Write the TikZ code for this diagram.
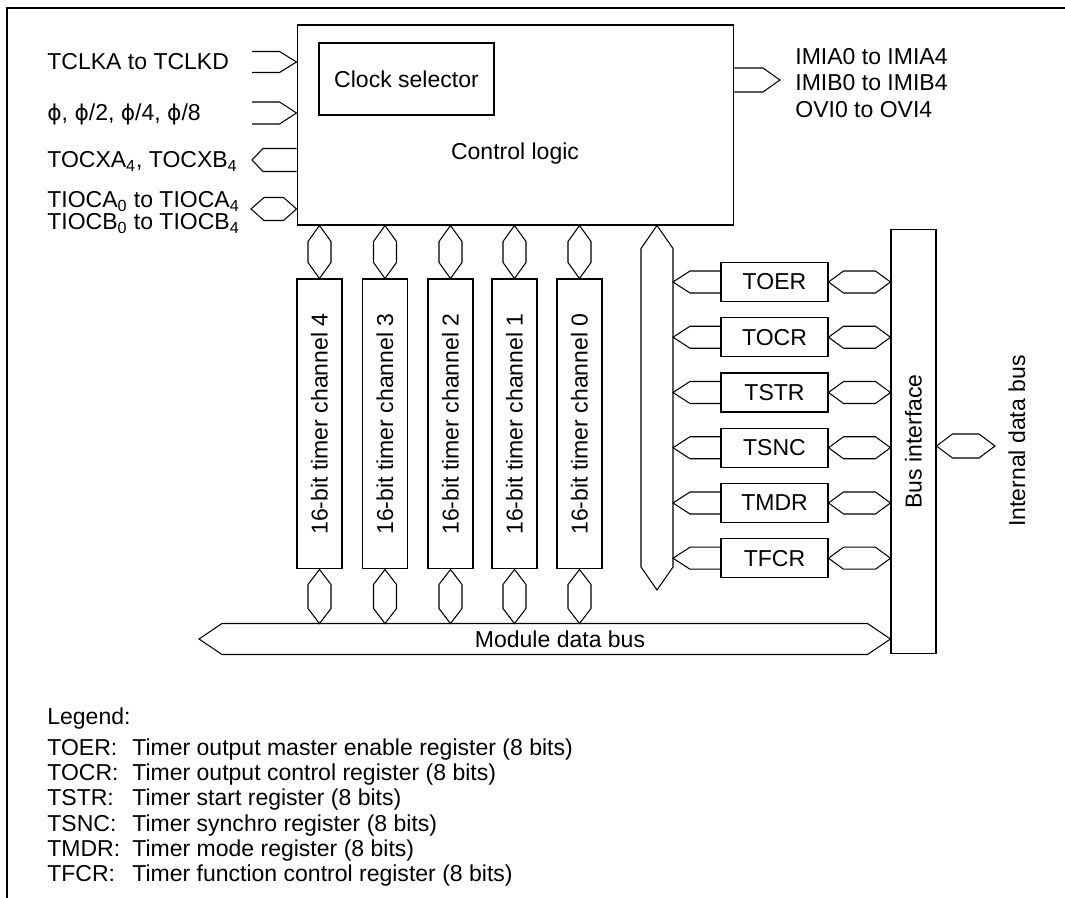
\documentclass[tikz,border=0pt]{standalone}
\usepackage{fontspec}
\setmainfont{Liberation Sans}
\newfontfamily\phifont{DejaVu Sans}
\usepackage{tikz}
\usetikzlibrary{positioning, calc}
\newcommand{\sigfont}{\fontsize{13.1pt}{15.5pt}\selectfont}
\newcommand{\phisym}{{\phifont\fontsize{12.4pt}{15pt}\selectfont ϕ}}
\tikzset{
  blockbox/.style={
    rectangle,
    draw,
    line width=0.6pt,
    inner sep=0pt,
    font=\sigfont
  },
  chanbox/.style={
    blockbox,
    minimum width=0.9cm,
    minimum height=5.8cm
  },
  regbox/.style={
    blockbox,
    minimum width=2.14cm,
    minimum height=0.78cm
  },
  sigtext/.style={
    inner sep=0pt,
    font=\sigfont
  },
  busline/.style={
    line width=0.6pt,
    line join=miter
  },
  framepen/.style={
    line width=1.4pt
  }
}
% hollow bus shapes
\newcommand{\hbus}[4]{%
  \draw[busline] (#1) -- ($(#1)+(#4,-#3)$) -- ($(#2)+(-#4,-#3)$) -- (#2)
    -- ($(#2)+(-#4,#3)$) -- ($(#1)+(#4,#3)$) -- cycle;}
\newcommand{\vbus}[4]{%
  \draw[busline] (#1) -- ($(#1)+(#3,#4)$) -- ($(#2)+(#3,-#4)$) -- (#2)
    -- ($(#2)+(-#3,-#4)$) -- ($(#1)+(-#3,#4)$) -- cycle;}
\newcommand{\busarrow}[4]{%
  \draw[busline] ($(#1)+(0,#3)$) -- ($(#2)+(#4,#3)$) -- (#2)
    -- ($(#2)+(#4,-#3)$) -- ($(#1)+(0,-#3)$);}

\begin{document}
\begin{tikzpicture}[x=0.02cm, y=-0.02cm]
  \useasboundingbox (0,0) rectangle (1065,898);
  \draw[framepen] (1065,8) -- (7,8) -- (7,898);

  \node[blockbox, minimum width=8.74cm, minimum height=4cm] (ctrl) at (515.5,125) {};
  \node[blockbox, minimum width=3.5cm, minimum height=1.44cm] (clksel) at (406.5,79) {Clock selector};
  \node[sigtext] (ctrltext) at (515,154) {Control logic};

  \node[chanbox] (ch4) at (319.5,424) {};
  \node[chanbox] (ch3) at (385,424) {};
  \node[chanbox] (ch2) at (450.5,424) {};
  \node[chanbox] (ch1) at (514.5,424) {};
  \node[chanbox] (ch0) at (579.5,424) {};
  \node[sigtext, rotate=90] (ch4text) at (ch4) {16-bit timer channel 4};
  \node[sigtext, rotate=90] (ch3text) at (ch3) {16-bit timer channel 3};
  \node[sigtext, rotate=90] (ch2text) at (ch2) {16-bit timer channel 2};
  \node[sigtext, rotate=90] (ch1text) at (ch1) {16-bit timer channel 1};
  \node[sigtext, rotate=90] (ch0text) at (ch0) {16-bit timer channel 0};

  \node[regbox] (toer) at (774.5,282) {TOER};
  \node[regbox, below=0.304cm of toer] (tocr) {TOCR};
  \node[regbox, below=0.304cm of tocr] (tstr) {TSTR};
  \node[regbox, below=0.304cm of tstr] (tsnc) {TSNC};
  \node[regbox, below=0.304cm of tsnc] (tmdr) {TMDR};
  \node[regbox, below=0.304cm of tmdr] (tfcr) {TFCR};

  \node[blockbox, minimum width=0.9cm, minimum height=8.5cm] (bif) at (913.5,441.5) {};
  \node[sigtext, rotate=90] (biftext) at (bif) {Bus interface};
  \node[sigtext, rotate=90] (intbustext) at (1017,441) {Internal data bus};

  \coordinate (tclkin) at (252,62);
  \coordinate (phiin) at (252,113);
  \coordinate (tocxout) at (252,160);
  \coordinate (tiocaend) at (251,209);
  \coordinate (imiaout) at (780,80);
  \coordinate (regbusend) at (657,590);
  \coordinate (regbusR) at (673,590);
  \coordinate (mbusend) at (199,639);
  \coordinate (mbustop) at (560,623.5);
  \coordinate (intbus) at (995,446);

  \busarrow{tclkin}{ctrl.west |- tclkin}{10.5}{-17}
  \busarrow{phiin}{ctrl.west |- phiin}{11}{-17}
  \busarrow{ctrl.west |- tocxout}{tocxout}{11.5}{11}
  \hbus{tiocaend}{ctrl.west |- tiocaend}{11.5}{13}
  \busarrow{ctrl.east |- imiaout}{imiaout}{12}{-17}

  \vbus{ctrl.south -| ch4}{ch4.north}{11.5}{16}
  \vbus{ctrl.south -| ch3}{ch3.north}{11.5}{16}
  \vbus{ctrl.south -| ch2}{ch2.north}{11.5}{16}
  \vbus{ctrl.south -| ch1}{ch1.north}{11.5}{16}
  \vbus{ctrl.south -| ch0}{ch0.north}{11.5}{16}
  \vbus{ch4.south}{ch4 |- mbustop}{11.5}{15}
  \vbus{ch3.south}{ch3 |- mbustop}{11.5}{15}
  \vbus{ch2.south}{ch2 |- mbustop}{11.5}{15}
  \vbus{ch1.south}{ch1 |- mbustop}{11.5}{15}
  \vbus{ch0.south}{ch0 |- mbustop}{11.5}{15}

  \vbus{ctrl.south -| regbusend}{regbusend}{16}{23}
  \busarrow{toer.west}{regbusR |- toer}{11}{17}
  \busarrow{tocr.west}{regbusR |- tocr}{11}{17}
  \busarrow{tstr.west}{regbusR |- tstr}{11}{17}
  \busarrow{tsnc.west}{regbusR |- tsnc}{11}{17}
  \busarrow{tmdr.west}{regbusR |- tmdr}{11}{17}
  \busarrow{tfcr.west}{regbusR |- tfcr}{11}{17}
  \hbus{toer.east}{bif.west |- toer}{11}{15}
  \hbus{tocr.east}{bif.west |- tocr}{11}{15}
  \hbus{tstr.east}{bif.west |- tstr}{11}{15}
  \hbus{tsnc.east}{bif.west |- tsnc}{11}{15}
  \hbus{tmdr.east}{bif.west |- tmdr}{11}{15}
  \hbus{tfcr.east}{bif.west |- tfcr}{11}{15}

  \hbus{mbusend}{bif.west |- mbusend}{15.5}{23}
  \node[sigtext] (mbustext) at (560,639) {Module data bus};
  \hbus{bif.east |- intbus}{intbus}{12}{16}

  \node[sigtext, anchor=base west] (tclklbl) at (47,70) {TCLKA to TCLKD};
  \node[sigtext, anchor=base west] (philbl) at (47,121) {\phisym, \phisym/2, \phisym/4, \phisym/8};
  \node[sigtext, anchor=base west] (tocxlbl) at (47,168) {TOCXA\textsubscript{4}, TOCXB\textsubscript{4}};
  \node[sigtext, anchor=base west] (tiocalbl) at (47,208) {TIOCA\textsubscript{0} to TIOCA\textsubscript{4}};
  \node[sigtext, anchor=base west] (tiocblbl) at (47,230) {TIOCB\textsubscript{0} to TIOCB\textsubscript{4}};
  \node[sigtext, anchor=base west] (imialbl) at (795,65) {IMIA0 to IMIA4};
  \node[sigtext, anchor=base west] (imiblbl) at (795,91) {IMIB0 to IMIB4};
  \node[sigtext, anchor=base west] (ovilbl) at (795,118) {OVI0 to OVI4};

  \node[sigtext, anchor=base west] (legend) at (47,724) {Legend:};
  \node[sigtext, anchor=base west] (legtoer) at (47,755) {\makebox[1.7cm][l]{TOER:}Timer output master enable register (8 bits)};
  \node[sigtext, anchor=base west] (legtocr) at (47,780) {\makebox[1.7cm][l]{TOCR:}Timer output control register (8 bits)};
  \node[sigtext, anchor=base west] (legtstr) at (47,805.5) {\makebox[1.7cm][l]{TSTR:}Timer start register (8 bits)};
  \node[sigtext, anchor=base west] (legtsnc) at (47,831) {\makebox[1.7cm][l]{TSNC:}Timer synchro register (8 bits)};
  \node[sigtext, anchor=base west] (legtmdr) at (47,856) {\makebox[1.7cm][l]{TMDR:}Timer mode register (8 bits)};
  \node[sigtext, anchor=base west] (legtfcr) at (47,881) {\makebox[1.7cm][l]{TFCR:}Timer function control register (8 bits)};
\end{tikzpicture}
\end{document}
